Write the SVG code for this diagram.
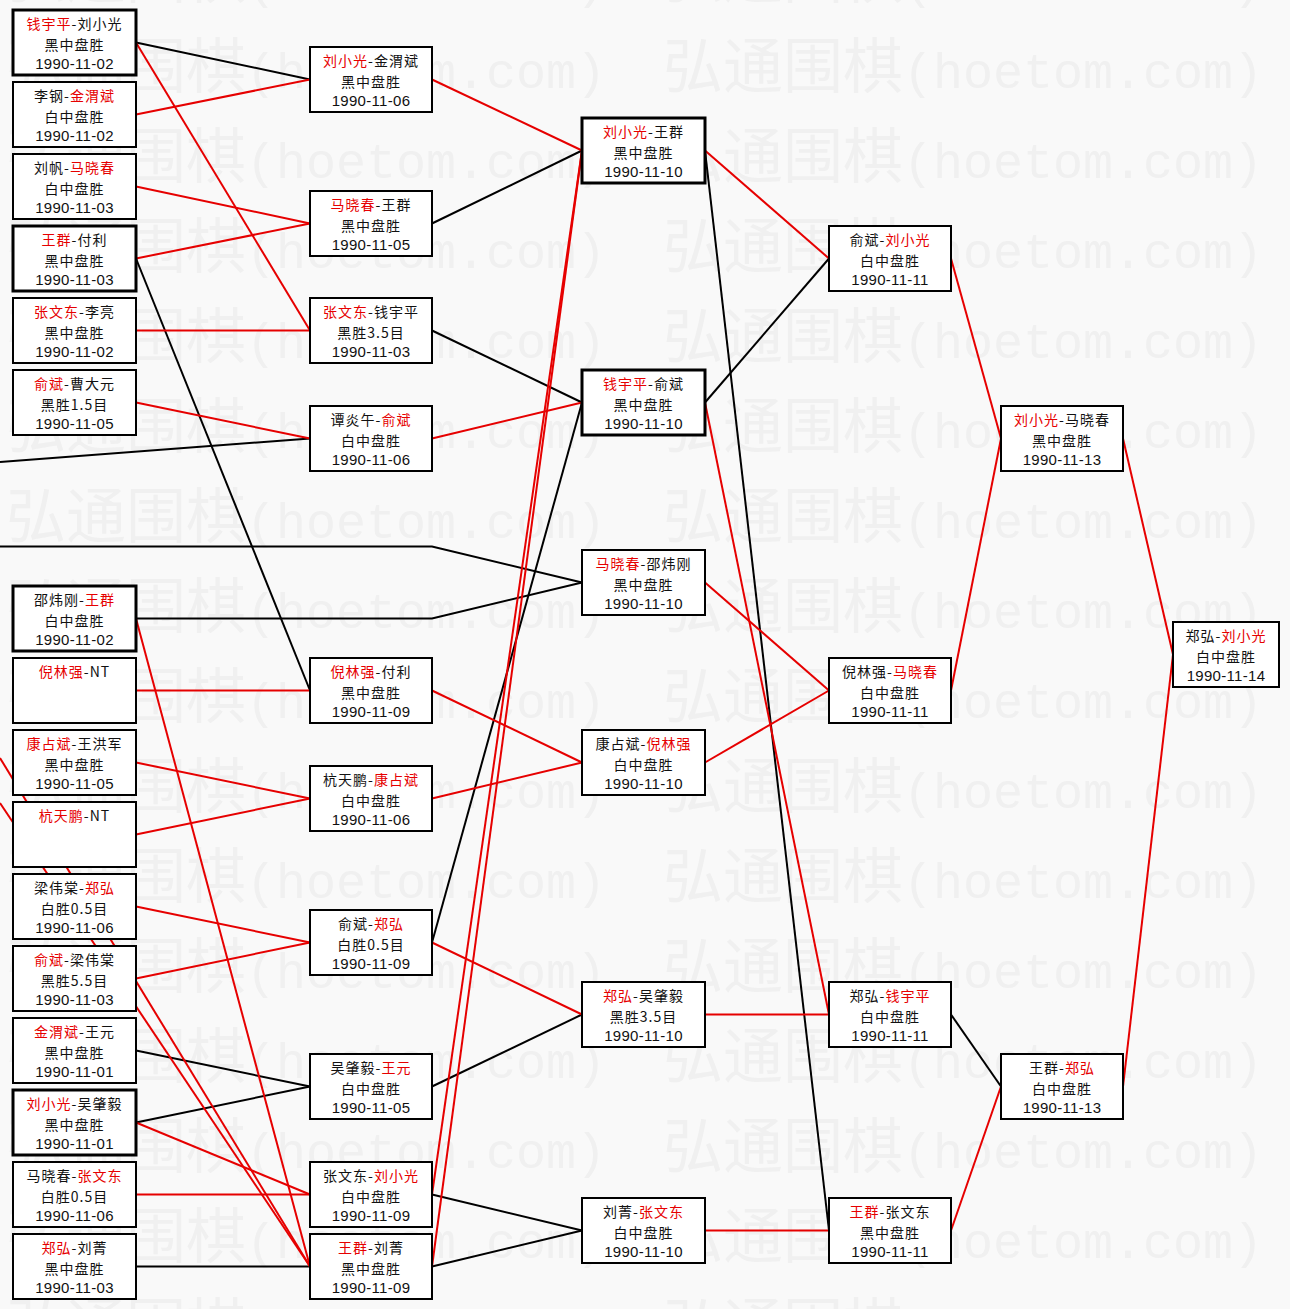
<svg xmlns="http://www.w3.org/2000/svg" width="1290" height="1309" viewBox="0 0 1290 1309">
<style>
.bg{fill:#f9f9f9}
.wc{font-family:"Noto Sans CJK SC",sans-serif;font-size:60px;fill:#f0f0f0}
.wa{font-family:"Liberation Mono",monospace;font-size:50px;fill:#f0f0f0}
.n rect{fill:#fff;stroke:#000;stroke-width:2}
.n.t rect{stroke-width:3}
.n text{font-family:"Noto Sans CJK SC",sans-serif;font-size:14px;letter-spacing:1px;fill:#111;text-anchor:middle}
.n text.d{font-family:"Liberation Sans",sans-serif;font-size:15px;letter-spacing:0.3px}
.n tspan.r{fill:#e60000}
#edges path{fill:none;stroke-width:2}
#edges .k{stroke:#000}
#edges .e{stroke:#e60000}
</style>
<defs>
<pattern id="wm" patternUnits="userSpaceOnUse" x="6" y="10" width="657" height="90">
<text x="0" y="78"><tspan class="wc">弘通围棋</tspan><tspan class="wa">(hoetom.com)</tspan></text>
</pattern>
</defs>
<rect class="bg" x="0" y="0" width="1290" height="1309"/>
<rect x="0" y="0" width="1290" height="1309" fill="url(#wm)"/>

<g id="edges">
<g class="k">
<path class="k" d="M136 42.5L310 79.5"/>
<path class="k" d="M136 258.5L310 690.5"/>
<path class="k" d="M136 1050.5L310 1086.5"/>
<path class="k" d="M136 1122.5L310 1086.5"/>
<path class="k" d="M136 1266.5L310 1266.5"/>
<path class="k" d="M0 462L310 438.5"/>
<path class="k" d="M0 546.5H432L582 582.5"/>
<path class="k" d="M136 618.5H432L582 582.5"/>
<path class="k" d="M432 223.5L582 150.5"/>
<path class="k" d="M432 330.5L582 402.5"/>
<path class="k" d="M432 942.5L582 402.5"/>
<path class="k" d="M432 1086.5L582 1014.5"/>
<path class="k" d="M432 1194.5L582 1230.5"/>
<path class="k" d="M432 1266.5L582 1230.5"/>
<path class="k" d="M705 150.5L829 1230.5"/>
<path class="k" d="M705 402.5L829 258.5"/>
<path class="k" d="M951 1014.5L1001 1086.5"/>
</g>
<g class="e">
<path class="e" d="M136 42.5L310 330.5"/>
<path class="e" d="M136 114.5L310 79.5"/>
<path class="e" d="M136 186.5L310 223.5"/>
<path class="e" d="M136 258.5L310 223.5"/>
<path class="e" d="M136 330.5L310 330.5"/>
<path class="e" d="M136 402.5L310 438.5"/>
<path class="e" d="M136 618.5L310 1266.5"/>
<path class="e" d="M136 690.5L310 690.5"/>
<path class="e" d="M136 762.5L310 798.5"/>
<path class="e" d="M136 834.5L310 798.5"/>
<path class="e" d="M136 906.5L310 942.5"/>
<path class="e" d="M136 978.5L310 942.5"/>
<path class="e" d="M136 1122.5L310 1194.5"/>
<path class="e" d="M136 1194.5L310 1194.5"/>
<path class="e" d="M0 758L310 1266.5"/>
<path class="e" d="M0 803L310 1266.5"/>
<path class="e" d="M432 79.5L582 150.5"/>
<path class="e" d="M432 438.5L582 402.5"/>
<path class="e" d="M432 690.5L582 762.5"/>
<path class="e" d="M432 798.5L582 762.5"/>
<path class="e" d="M432 942.5L582 1014.5"/>
<path class="e" d="M432 1194.5L582 150.5"/>
<path class="e" d="M432 1266.5L582 150.5"/>
<path class="e" d="M705 150.5L829 258.5"/>
<path class="e" d="M705 402.5L829 1014.5"/>
<path class="e" d="M705 582.5L829 690.5"/>
<path class="e" d="M705 762.5L829 690.5"/>
<path class="e" d="M705 1014.5L829 1014.5"/>
<path class="e" d="M705 1230.5L829 1230.5"/>
<path class="e" d="M951 258.5L1001 438.5"/>
<path class="e" d="M951 690.5L1001 438.5"/>
<path class="e" d="M951 1230.5L1001 1086.5"/>
<path class="e" d="M1123 438.5L1173 654.5"/>
<path class="e" d="M1123 1086.5L1173 654.5"/>
</g>
</g>

<!-- column 1 -->
<g id="r1g1" class="n t" transform="translate(13,10)"><rect width="123" height="65"/><text x="61.5" y="19"><tspan class="r">钱宇平</tspan>-刘小光</text><text x="61.5" y="39.6">黑中盘胜</text><text class="d" x="61.5" y="58.5">1990-11-02</text></g>
<g id="r1g2" class="n" transform="translate(13,82)"><rect width="123" height="65"/><text x="61.5" y="19">李钢-<tspan class="r">金渭斌</tspan></text><text x="61.5" y="39.6">白中盘胜</text><text class="d" x="61.5" y="58.5">1990-11-02</text></g>
<g id="r1g3" class="n" transform="translate(13,154)"><rect width="123" height="65"/><text x="61.5" y="19">刘帆-<tspan class="r">马晓春</tspan></text><text x="61.5" y="39.6">白中盘胜</text><text class="d" x="61.5" y="58.5">1990-11-03</text></g>
<g id="r1g4" class="n t" transform="translate(13,226)"><rect width="123" height="65"/><text x="61.5" y="19"><tspan class="r">王群</tspan>-付利</text><text x="61.5" y="39.6">黑中盘胜</text><text class="d" x="61.5" y="58.5">1990-11-03</text></g>
<g id="r1g5" class="n" transform="translate(13,298)"><rect width="123" height="65"/><text x="61.5" y="19"><tspan class="r">张文东</tspan>-李亮</text><text x="61.5" y="39.6">黑中盘胜</text><text class="d" x="61.5" y="58.5">1990-11-02</text></g>
<g id="r1g6" class="n" transform="translate(13,370)"><rect width="123" height="65"/><text x="61.5" y="19"><tspan class="r">俞斌</tspan>-曹大元</text><text x="61.5" y="39.6">黑胜1.5目</text><text class="d" x="61.5" y="58.5">1990-11-05</text></g>
<g id="r1g7" class="n t" transform="translate(13,586)"><rect width="123" height="65"/><text x="61.5" y="19">邵炜刚-<tspan class="r">王群</tspan></text><text x="61.5" y="39.6">白中盘胜</text><text class="d" x="61.5" y="58.5">1990-11-02</text></g>
<g id="r1g8" class="n" transform="translate(13,658)"><rect width="123" height="65"/><text x="61.5" y="19"><tspan class="r">倪林强</tspan>-NT</text></g>
<g id="r1g9" class="n" transform="translate(13,730)"><rect width="123" height="65"/><text x="61.5" y="19"><tspan class="r">康占斌</tspan>-王洪军</text><text x="61.5" y="39.6">黑中盘胜</text><text class="d" x="61.5" y="58.5">1990-11-05</text></g>
<g id="r1g10" class="n" transform="translate(13,802)"><rect width="123" height="65"/><text x="61.5" y="19"><tspan class="r">杭天鹏</tspan>-NT</text></g>
<g id="r1g11" class="n" transform="translate(13,874)"><rect width="123" height="65"/><text x="61.5" y="19">梁伟棠-<tspan class="r">郑弘</tspan></text><text x="61.5" y="39.6">白胜0.5目</text><text class="d" x="61.5" y="58.5">1990-11-06</text></g>
<g id="r1g12" class="n" transform="translate(13,946)"><rect width="123" height="65"/><text x="61.5" y="19"><tspan class="r">俞斌</tspan>-梁伟棠</text><text x="61.5" y="39.6">黑胜5.5目</text><text class="d" x="61.5" y="58.5">1990-11-03</text></g>
<g id="r1g13" class="n" transform="translate(13,1018)"><rect width="123" height="65"/><text x="61.5" y="19"><tspan class="r">金渭斌</tspan>-王元</text><text x="61.5" y="39.6">黑中盘胜</text><text class="d" x="61.5" y="58.5">1990-11-01</text></g>
<g id="r1g14" class="n t" transform="translate(13,1090)"><rect width="123" height="65"/><text x="61.5" y="19"><tspan class="r">刘小光</tspan>-吴肇毅</text><text x="61.5" y="39.6">黑中盘胜</text><text class="d" x="61.5" y="58.5">1990-11-01</text></g>
<g id="r1g15" class="n" transform="translate(13,1162)"><rect width="123" height="65"/><text x="61.5" y="19">马晓春-<tspan class="r">张文东</tspan></text><text x="61.5" y="39.6">白胜0.5目</text><text class="d" x="61.5" y="58.5">1990-11-06</text></g>
<g id="r1g16" class="n" transform="translate(13,1234)"><rect width="123" height="65"/><text x="61.5" y="19"><tspan class="r">郑弘</tspan>-刘菁</text><text x="61.5" y="39.6">黑中盘胜</text><text class="d" x="61.5" y="58.5">1990-11-03</text></g>

<!-- column 2 -->
<g id="r2g1" class="n" transform="translate(310,47)"><rect width="122" height="65"/><text x="61" y="19"><tspan class="r">刘小光</tspan>-金渭斌</text><text x="61" y="39.6">黑中盘胜</text><text class="d" x="61" y="58.5">1990-11-06</text></g>
<g id="r2g2" class="n" transform="translate(310,191)"><rect width="122" height="65"/><text x="61" y="19"><tspan class="r">马晓春</tspan>-王群</text><text x="61" y="39.6">黑中盘胜</text><text class="d" x="61" y="58.5">1990-11-05</text></g>
<g id="r2g3" class="n" transform="translate(310,298)"><rect width="122" height="65"/><text x="61" y="19"><tspan class="r">张文东</tspan>-钱宇平</text><text x="61" y="39.6">黑胜3.5目</text><text class="d" x="61" y="58.5">1990-11-03</text></g>
<g id="r2g4" class="n" transform="translate(310,406)"><rect width="122" height="65"/><text x="61" y="19">谭炎午-<tspan class="r">俞斌</tspan></text><text x="61" y="39.6">白中盘胜</text><text class="d" x="61" y="58.5">1990-11-06</text></g>
<g id="r2g5" class="n" transform="translate(310,658)"><rect width="122" height="65"/><text x="61" y="19"><tspan class="r">倪林强</tspan>-付利</text><text x="61" y="39.6">黑中盘胜</text><text class="d" x="61" y="58.5">1990-11-09</text></g>
<g id="r2g6" class="n" transform="translate(310,766)"><rect width="122" height="65"/><text x="61" y="19">杭天鹏-<tspan class="r">康占斌</tspan></text><text x="61" y="39.6">白中盘胜</text><text class="d" x="61" y="58.5">1990-11-06</text></g>
<g id="r2g7" class="n" transform="translate(310,910)"><rect width="122" height="65"/><text x="61" y="19">俞斌-<tspan class="r">郑弘</tspan></text><text x="61" y="39.6">白胜0.5目</text><text class="d" x="61" y="58.5">1990-11-09</text></g>
<g id="r2g8" class="n" transform="translate(310,1054)"><rect width="122" height="65"/><text x="61" y="19">吴肇毅-<tspan class="r">王元</tspan></text><text x="61" y="39.6">白中盘胜</text><text class="d" x="61" y="58.5">1990-11-05</text></g>
<g id="r2g9" class="n" transform="translate(310,1162)"><rect width="122" height="65"/><text x="61" y="19">张文东-<tspan class="r">刘小光</tspan></text><text x="61" y="39.6">白中盘胜</text><text class="d" x="61" y="58.5">1990-11-09</text></g>
<g id="r2g10" class="n" transform="translate(310,1234)"><rect width="122" height="65"/><text x="61" y="19"><tspan class="r">王群</tspan>-刘菁</text><text x="61" y="39.6">黑中盘胜</text><text class="d" x="61" y="58.5">1990-11-09</text></g>

<!-- column 3 -->
<g id="r3g1" class="n t" transform="translate(582,118)"><rect width="123" height="65"/><text x="61.5" y="19"><tspan class="r">刘小光</tspan>-王群</text><text x="61.5" y="39.6">黑中盘胜</text><text class="d" x="61.5" y="58.5">1990-11-10</text></g>
<g id="r3g2" class="n t" transform="translate(582,370)"><rect width="123" height="65"/><text x="61.5" y="19"><tspan class="r">钱宇平</tspan>-俞斌</text><text x="61.5" y="39.6">黑中盘胜</text><text class="d" x="61.5" y="58.5">1990-11-10</text></g>
<g id="r3g3" class="n" transform="translate(582,550)"><rect width="123" height="65"/><text x="61.5" y="19"><tspan class="r">马晓春</tspan>-邵炜刚</text><text x="61.5" y="39.6">黑中盘胜</text><text class="d" x="61.5" y="58.5">1990-11-10</text></g>
<g id="r3g4" class="n" transform="translate(582,730)"><rect width="123" height="65"/><text x="61.5" y="19">康占斌-<tspan class="r">倪林强</tspan></text><text x="61.5" y="39.6">白中盘胜</text><text class="d" x="61.5" y="58.5">1990-11-10</text></g>
<g id="r3g5" class="n" transform="translate(582,982)"><rect width="123" height="65"/><text x="61.5" y="19"><tspan class="r">郑弘</tspan>-吴肇毅</text><text x="61.5" y="39.6">黑胜3.5目</text><text class="d" x="61.5" y="58.5">1990-11-10</text></g>
<g id="r3g6" class="n" transform="translate(582,1198)"><rect width="123" height="65"/><text x="61.5" y="19">刘菁-<tspan class="r">张文东</tspan></text><text x="61.5" y="39.6">白中盘胜</text><text class="d" x="61.5" y="58.5">1990-11-10</text></g>

<!-- column 4 -->
<g id="r4g1" class="n" transform="translate(829,226)"><rect width="122" height="65"/><text x="61" y="19">俞斌-<tspan class="r">刘小光</tspan></text><text x="61" y="39.6">白中盘胜</text><text class="d" x="61" y="58.5">1990-11-11</text></g>
<g id="r4g2" class="n" transform="translate(829,658)"><rect width="122" height="65"/><text x="61" y="19">倪林强-<tspan class="r">马晓春</tspan></text><text x="61" y="39.6">白中盘胜</text><text class="d" x="61" y="58.5">1990-11-11</text></g>
<g id="r4g3" class="n" transform="translate(829,982)"><rect width="122" height="65"/><text x="61" y="19">郑弘-<tspan class="r">钱宇平</tspan></text><text x="61" y="39.6">白中盘胜</text><text class="d" x="61" y="58.5">1990-11-11</text></g>
<g id="r4g4" class="n" transform="translate(829,1198)"><rect width="122" height="65"/><text x="61" y="19"><tspan class="r">王群</tspan>-张文东</text><text x="61" y="39.6">黑中盘胜</text><text class="d" x="61" y="58.5">1990-11-11</text></g>

<!-- column 5 -->
<g id="r5g1" class="n" transform="translate(1001,406)"><rect width="122" height="65"/><text x="61" y="19"><tspan class="r">刘小光</tspan>-马晓春</text><text x="61" y="39.6">黑中盘胜</text><text class="d" x="61" y="58.5">1990-11-13</text></g>
<g id="r5g2" class="n" transform="translate(1001,1054)"><rect width="122" height="65"/><text x="61" y="19">王群-<tspan class="r">郑弘</tspan></text><text x="61" y="39.6">白中盘胜</text><text class="d" x="61" y="58.5">1990-11-13</text></g>

<!-- final -->
<g id="final" class="n" transform="translate(1173,622)"><rect width="106" height="65"/><text x="53" y="19">郑弘-<tspan class="r">刘小光</tspan></text><text x="53" y="39.6">白中盘胜</text><text class="d" x="53" y="58.5">1990-11-14</text></g>
</svg>
